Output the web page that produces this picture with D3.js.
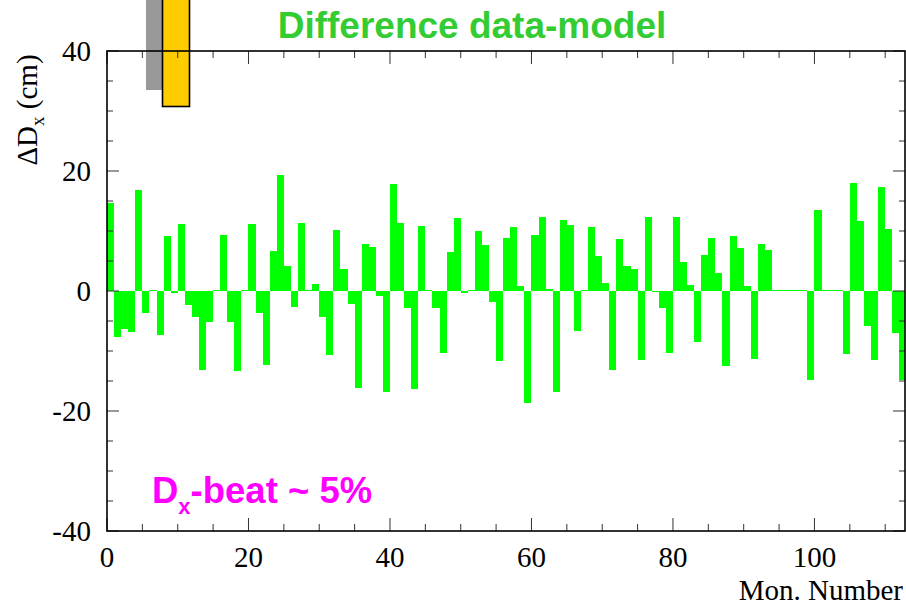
<!DOCTYPE html>
<html>
<head>
<meta charset="utf-8">
<script src="https://cdn.jsdelivr.net/npm/d3@7"></script>
<style>
html,body{margin:0;padding:0;background:#fff;}
svg{display:block;}
</style>
</head>
<body>
<svg id="chart" width="906" height="610"></svg>
<script>
// ---- data ----
const monitors = d3.range(0, 113); // monitor index, bin [i, i+1)
const diffDx = [
  14.7, -7.7, -6.3, -6.8, 16.9, -3.7, 0.1, -7.4, 9.2, -0.3,
  11.2, -2.3, -4.3, -13.2, -5.1, 0.1, 9.3, -5.2, -13.4, 0.1,
  11.1, -3.7, -12.3, 6.7, 19.3, 4.2, -2.7, 11.3, 0.1, 1.2,
  -4.4, -10.7, 10.2, 3.7, -2.1, -16.2, 7.9, 7.3, -0.9, -16.9,
  17.9, 11.4, -2.8, -16.4, 10.8, 0.1, -2.8, -10.4, 6.5, 12.1,
  -0.3, 0.1, 10.0, 7.6, -1.8, -11.7, 8.8, 10.7, 0.8, -18.6,
  9.3, 12.3, 0.4, -16.8, 11.9, 11.0, -6.6, 0.2, 10.6, 5.9,
  1.4, -13.1, 8.7, 4.1, 3.6, -11.5, 12.3, -0.2, -2.8, -10.3,
  12.3, 4.9, 1.0, -8.5, 6.0, 8.8, 3.0, -12.5, 9.1, 7.2,
  0.8, -11.3, 7.9, 6.9, 0.1, 0.1, 0.1, 0.1, 0.1, -14.8,
  13.5, 0.1, 0.1, 0.1, -10.5, 18.0, 11.7, -5.8, -11.5, 17.3,
  10.3, -7.0, -14.9
];
const xMajorTicks = [0, 20, 40, 60, 80, 100];
const yMajorTicks = [-40, -20, 0, 20, 40];
const titleText = "Difference data-model";
const xLabel = "Mon. Number";

// ---- layout ----
const L = 107, R = 905, T = 51, B = 531;
const svg = d3.select("#chart");
const x = d3.scaleLinear().domain([0, 112.8]).range([L, R]);
const y = d3.scaleLinear().domain([-40, 40]).range([B, T]);

// decorative lattice element drawing at top-left
svg.append("rect").attr("x", 146).attr("y", -5).attr("width", 16).attr("height", 95)
  .attr("fill", "#999999");
svg.append("rect").attr("x", 162.5).attr("y", -5).attr("width", 27).attr("height", 111.5)
  .attr("fill", "#ffcc00").attr("stroke", "#000").attr("stroke-width", 1.6);

// clip for bars
svg.append("clipPath").attr("id", "clip").append("rect")
  .attr("x", L).attr("y", T).attr("width", R - L).attr("height", B - T);

const data = monitors.map((m, i) => ({ m, v: diffDx[i] }));
svg.append("g").attr("clip-path", "url(#clip)")
  .selectAll("rect").data(data).join("rect")
  .attr("x", d => x(d.m))
  .attr("width", d => x(d.m + 1) - x(d.m))
  .attr("y", d => y(Math.max(0, d.v)))
  .attr("height", d => Math.max(0.8, Math.abs(y(d.v) - y(0))))
  .attr("fill", "#00ff00")
  .attr("shape-rendering", "crispEdges");

// ticks
const tickG = svg.append("g").attr("stroke", "#333").attr("stroke-width", 1);
const xMinor = d3.range(0, 113, 5);
xMinor.forEach(t => {
  const len = (t % 20 === 0) ? 13 : 7;
  const px = x(t);
  tickG.append("line").attr("x1", px).attr("x2", px).attr("y1", B).attr("y2", B - len);
  tickG.append("line").attr("x1", px).attr("x2", px).attr("y1", T).attr("y2", T + len);
});
const yMinor = d3.range(-40, 41, 5);
yMinor.forEach(t => {
  const len = (t % 20 === 0) ? 12 : 6;
  const py = y(t);
  tickG.append("line").attr("x1", L).attr("x2", L + len).attr("y1", py).attr("y2", py);
  tickG.append("line").attr("x1", R).attr("x2", R - len).attr("y1", py).attr("y2", py);
});

// frame
svg.append("rect").attr("x", L).attr("y", T).attr("width", R - L).attr("height", B - T)
  .attr("fill", "none").attr("stroke", "#000").attr("stroke-width", 1.6);

// tick labels
const serif = "'Liberation Serif','Times New Roman',Times,serif";
svg.append("g").selectAll("text").data(xMajorTicks).join("text")
  .attr("x", d => x(d)).attr("y", 567)
  .attr("text-anchor", "middle")
  .attr("font-family", serif).attr("font-size", 29)
  .text(d => d);
svg.append("g").selectAll("text").data(yMajorTicks).join("text")
  .attr("x", 91).attr("y", d => y(d) + 10)
  .attr("text-anchor", "end")
  .attr("font-family", serif).attr("font-size", 29)
  .text(d => d);

// x axis title
svg.append("text").attr("x", 903).attr("y", 600)
  .attr("text-anchor", "end")
  .attr("font-family", serif).attr("font-size", 29)
  .text(xLabel);

// y axis title
const yt = svg.append("text")
  .attr("transform", "translate(37,110) rotate(-90)")
  .attr("text-anchor", "middle")
  .attr("font-family", serif).attr("font-size", 29);
yt.append("tspan").text("\u0394D");
yt.append("tspan").attr("font-size", 19).attr("dy", 7).text("x");
yt.append("tspan").attr("dy", -7).text(" (cm)");

// title
svg.append("text").attr("x", 472).attr("y", 38)
  .attr("text-anchor", "middle")
  .attr("font-family", "'Liberation Sans',Arial,Helvetica,sans-serif")
  .attr("font-weight", "bold").attr("font-size", 37)
  .attr("fill", "#33cc33")
  .text(titleText);

// annotation
const ann = svg.append("text").attr("x", 152).attr("y", 503)
  .attr("font-family", "'Liberation Sans',Arial,Helvetica,sans-serif")
  .attr("font-weight", "bold").attr("font-size", 36.5)
  .attr("fill", "#ff00ff");
ann.append("tspan").text("D");
ann.append("tspan").attr("font-size", 22).attr("dy", 11).text("x");
ann.append("tspan").attr("dy", -11).text("-beat ~ 5%");
</script>
</body>
</html>
